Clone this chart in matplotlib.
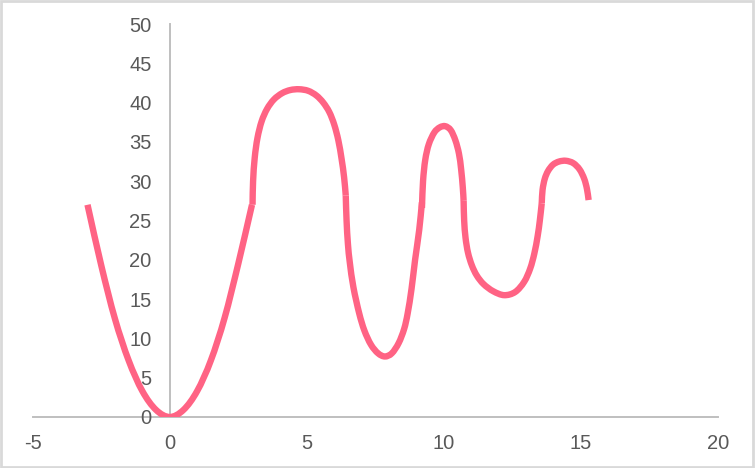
import matplotlib.pyplot as plt
from matplotlib.path import Path
from matplotlib.patches import PathPatch, Rectangle

# values, one list pair per drawn segment
seg1_x = [-3.0, -2.5, -2.0, -1.5, -1.0, -0.5, 0.0, 0.5, 1.0, 1.5, 2.0, 2.5, 3.0]
seg1_y = [27.0, 19.3, 12.5, 7.2, 3.3, 0.9, 0.0, 0.9, 3.3, 7.2, 12.6, 19.5, 27.0]

seg2_x = [3.02, 3.04, 3.1, 3.2, 3.35, 3.55, 3.8, 4.1, 4.4, 4.72, 5.05, 5.35, 5.6, 5.82, 6.0, 6.15, 6.27, 6.36, 6.42]
seg2_y = [27.0, 30.0, 33.0, 35.5, 37.6, 39.2, 40.4, 41.2, 41.6, 41.7, 41.5, 40.9, 40.0, 38.8, 37.2, 35.2, 32.8, 30.5, 28.2]

seg3_x = [6.42, 6.45, 6.5, 6.57, 6.7, 6.91, 7.1, 7.34, 7.6, 7.85, 8.1, 8.35, 8.55, 8.68, 8.82, 8.95, 9.1, 9.2]
seg3_y = [28.2, 25.0, 22.0, 19.6, 16.5, 13.2, 11.0, 9.2, 8.1, 7.7, 8.1, 9.4, 11.2, 13.2, 16.3, 20.0, 23.8, 27.3]

seg4_x = [9.2, 9.24, 9.32, 9.45, 9.65, 9.85, 10.05, 10.25, 10.42, 10.55, 10.63, 10.69, 10.72]
seg4_y = [26.6, 30.0, 32.7, 34.7, 36.2, 36.85, 37.0, 36.5, 35.2, 33.5, 31.5, 29.2, 27.5]

seg5_x = [10.72, 10.74, 10.79, 10.88, 11.02, 11.2, 11.45, 11.8, 12.2, 12.6, 12.93, 13.15, 13.3, 13.42, 13.5, 13.57]
seg5_y = [27.5, 25.0, 22.8, 20.9, 19.3, 18.0, 16.9, 16.0, 15.5, 15.9, 17.2, 18.9, 20.8, 23.0, 25.0, 27.2]

seg6_x = [13.57, 13.6, 13.68, 13.8, 13.98, 14.2, 14.45, 14.72, 14.95, 15.12, 15.22, 15.28]
seg6_y = [27.2, 28.9, 30.3, 31.3, 32.1, 32.5, 32.6, 32.3, 31.5, 30.3, 29.0, 27.6]

x_ticks = [-5, 0, 5, 10, 15, 20]
y_ticks = [0, 5, 10, 15, 20, 25, 30, 35, 40, 45, 50]

LINE = '#FF6384'
GRAY = '#BFBFBF'
TEXT = '#595959'


def smooth_path(xs, ys):
    """Bezier path through the points, like a spreadsheet 'smoothed line'."""
    pts = list(zip(xs, ys))
    n = len(pts)
    # mirrored end points so the ends keep their direction
    first = (2 * pts[0][0] - pts[1][0], 2 * pts[0][1] - pts[1][1])
    last = (2 * pts[-1][0] - pts[-2][0], 2 * pts[-1][1] - pts[-2][1])
    ext = [first] + pts + [last]
    verts = [pts[0]]
    codes = [Path.MOVETO]
    for i in range(1, n):
        p0, p1, p2, p3 = ext[i - 1], ext[i], ext[i + 1], ext[i + 2]
        c1 = (p1[0] + (p2[0] - p0[0]) / 6, p1[1] + (p2[1] - p0[1]) / 6)
        c2 = (p2[0] - (p3[0] - p1[0]) / 6, p2[1] - (p3[1] - p1[1]) / 6)
        verts += [c1, c2, p2]
        codes += [Path.CURVE4] * 3
    return Path(verts, codes)


plt.rcParams['font.family'] = ['Liberation Sans', 'DejaVu Sans']
plt.rcParams['axes.unicode_minus'] = False

fig = plt.figure(figsize=(7.55, 4.68), dpi=100)
ax = fig.add_axes([0.0433, 0.109, 0.9077, 0.8397])

for xs, ys in [(seg1_x, seg1_y), (seg2_x, seg2_y), (seg3_x, seg3_y),
               (seg4_x, seg4_y), (seg5_x, seg5_y), (seg6_x, seg6_y)]:
    ax.add_patch(PathPatch(smooth_path(xs, ys), facecolor='none',
                           edgecolor=LINE, lw=4.6, capstyle='butt',
                           joinstyle='round', zorder=3))

ax.set_xlim(-5, 20)
ax.set_ylim(0, 50)
ax.set_xticks(x_ticks)
ax.set_yticks(y_ticks)

ax.spines['left'].set_position(('data', 0))
ax.spines['bottom'].set_position(('data', 0))
for side in ['top', 'right']:
    ax.spines[side].set_visible(False)
for side in ['left', 'bottom']:
    ax.spines[side].set_color(GRAY)
    ax.spines[side].set_linewidth(1.4)
    ax.spines[side].set_zorder(1)

ax.tick_params(axis='y', length=0, pad=13, labelsize=14.5, labelcolor=TEXT)
ax.tick_params(axis='x', length=0, pad=12, labelsize=14.5, labelcolor=TEXT)

# light gray border of the chart area
fig.patches.append(Rectangle((0.001, 0.002), 0.997, 0.996, transform=fig.transFigure,
                             fill=False, edgecolor='#D9D9D9', lw=2))

fig.savefig('out.png', dpi=100)
